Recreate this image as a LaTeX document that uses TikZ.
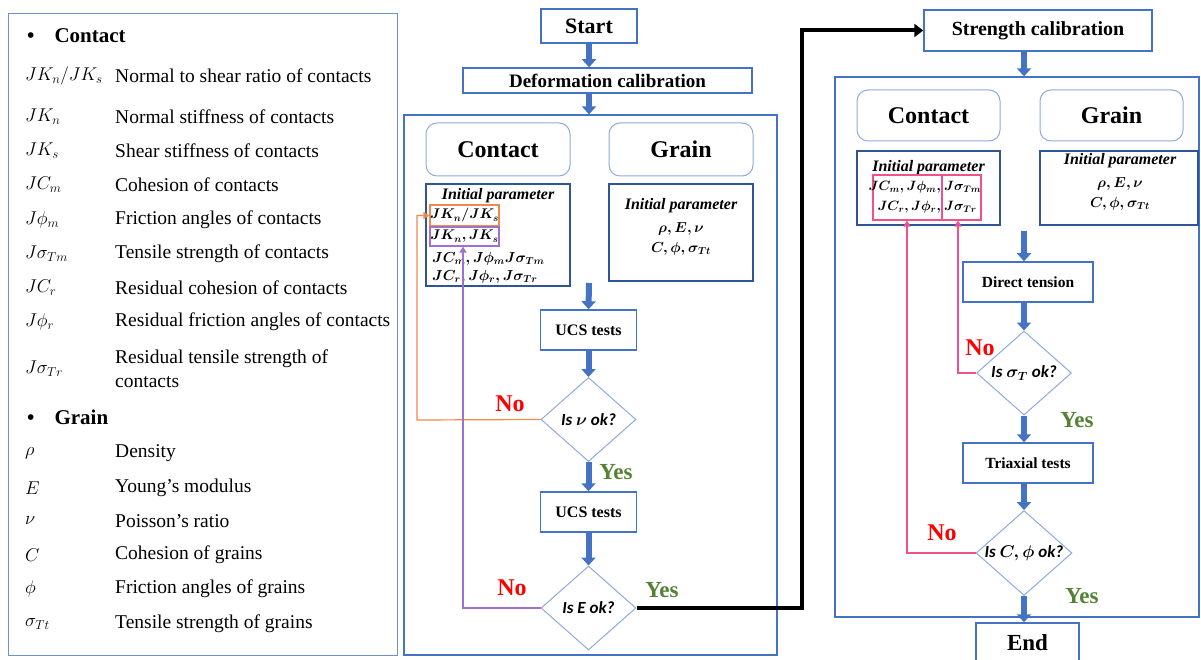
\RequirePackage{fix-cm}
\documentclass[tikz,border=0pt]{standalone}
\usepackage{amsmath}
\usepackage{fontspec}
\setmainfont{Liberation Serif}
\newfontfamily\carl{Carlito}
\usetikzlibrary{arrows.meta,shapes.geometric}
\definecolor{bblue}{HTML}{4472C4}
\definecolor{dblue}{HTML}{2F5597}
\definecolor{lblue}{HTML}{8FAADC}
\definecolor{legcol}{HTML}{7090C8}
\definecolor{myred}{HTML}{FF0000}
\definecolor{mygreen}{HTML}{548235}
\definecolor{myorange}{HTML}{F08A4B}
\definecolor{mypurple}{HTML}{A070D0}
\definecolor{mypink}{HTML}{F0508C}
\newcommand{\fs}[1]{\fontsize{#1}{#1}\selectfont}
\begin{document}
\begin{tikzpicture}[x=1pt,y=-1pt,
  legbox/.style={draw=legcol,line width=1pt,inner sep=0pt},
  sym/.style={anchor=west,inner sep=0pt,font=\fs{18.5}},
  desc/.style={anchor=west,inner sep=0pt,font=\fs{19.5},align=left},
  head/.style={anchor=west,inner sep=0pt,font=\fs{21}\bfseries},
  pbox/.style={draw=bblue,line width=1.5pt,fill=white,inner sep=0pt},
  frame/.style={draw=bblue,line width=1.3pt,inner sep=0pt},
  rbox/.style={draw=lblue,line width=1pt,rounded corners=11pt,inner sep=0pt,font=\fs{24}\bfseries},
  parbox/.style={draw=dblue,line width=1.5pt,inner sep=0pt},
  iptext/.style={inner sep=0pt,font=\fs{16}\bfseries\itshape},
  mtext/.style={inner sep=0pt,font=\fs{14.5}},
  stext/.style={inner sep=0pt,font=\fs{13.5}},
  dia/.style={shape=diamond,draw=lblue,line width=1pt,aspect=1.13,minimum width=95pt,minimum height=84pt,inner sep=0pt,font=\carl\fs{17}\bfseries\itshape},
  barrow/.style={draw=bblue,line width=6pt,-{Triangle[width=14pt,length=8pt]}},
  nolab/.style={inner sep=0pt,font=\fs{24}\bfseries,text=myred},
  yeslab/.style={inner sep=0pt,font=\fs{23}\bfseries,text=mygreen},
  oline/.style={draw=myorange,line width=1.2pt,-{Triangle[width=7pt,length=6pt]}},
  uline/.style={draw=mypurple,line width=1.2pt,-{Triangle[width=7pt,length=6pt]}},
  kline/.style={draw=mypink,line width=1.2pt,-{Triangle[width=7pt,length=6pt]}},
  bline/.style={draw=black,line width=4pt,-{Triangle[width=13pt,length=9pt]}}
]
\useasboundingbox (0,0) rectangle (1201,660);
\fill[white] (0,0) rectangle (1201,660);

% ---------------- legend ----------------
\node[legbox,minimum width=389pt,minimum height=641pt] (leg) at (202.5,334.5) {};
\node[head] (h1) at (27,36) {\textbullet\hspace{20pt}Contact};
\node[sym] (s1) at (25,76) {$JK_n/JK_s$};
\node[desc] (e1) at (115,76) {Normal to shear ratio of contacts};
\node[sym] (s2) at (25,117) {$JK_n$};
\node[desc] (e2) at (115,117) {Normal stiffness of contacts};
\node[sym] (s3) at (25,151) {$JK_s$};
\node[desc] (e3) at (115,151) {Shear stiffness of contacts};
\node[sym] (s4) at (25,185) {$JC_m$};
\node[desc] (e4) at (115,185) {Cohesion of contacts};
\node[sym] (s5) at (25,220) {$J\phi_m$};
\node[desc] (e5) at (115,220) {Friction angles of contacts};
\node[sym] (s6) at (25,254) {$J\sigma_{Tm}$};
\node[desc] (e6) at (115,254) {Tensile strength of contacts};
\node[sym] (s7) at (25,288) {$JC_r$};
\node[desc] (e7) at (115,288) {Residual cohesion of contacts};
\node[sym] (s8) at (25,322) {$J\phi_r$};
\node[desc] (e8) at (115,322) {Residual friction angles of contacts};
\node[sym] (s9) at (25,369) {$J\sigma_{Tr}$};
\node[desc,font={\fontsize{19.5}{24}\selectfont}] (e9) at (115,369) {Residual tensile strength of\\contacts};
\node[head] (h2) at (27,417) {\textbullet\hspace{20pt}Grain};
\node[sym] (g1) at (25,453) {$\rho$};
\node[desc] (f1) at (115,453) {Density};
\node[sym] (g2) at (25,488) {$E$};
\node[desc] (f2) at (115,488) {Young's modulus};
\node[sym] (g3) at (25,521) {$\nu$};
\node[desc] (f3) at (115,521) {Poisson's ratio};
\node[sym] (g4) at (25,555) {$C$};
\node[desc] (f4) at (115,555) {Cohesion of grains};
\node[sym] (g5) at (25,589) {$\phi$};
\node[desc] (f5) at (115,589) {Friction angles of grains};
\node[sym] (g6) at (25,624) {$\sigma_{Tt}$};
\node[desc] (f6) at (115,624) {Tensile strength of grains};

% ---------------- deformation calibration ----------------
\node[pbox,minimum width=96pt,minimum height=34pt,font=\fs{22}\bfseries] (start) at (589,26) {Start};
\node[pbox,minimum width=289pt,minimum height=25pt,font=\fs{19}\bfseries] (def) at (607.5,80.5) {Deformation calibration};
\node[frame,minimum width=373pt,minimum height=540pt] (mid) at (590.5,385) {};
\node[rbox,minimum width=144pt,minimum height=53pt] (ccont) at (498,149.5) {Contact};
\node[rbox,minimum width=144pt,minimum height=53pt] (cgrain) at (681,149.5) {Grain};
\node[parbox,minimum width=144pt,minimum height=102pt] (cpar) at (498,235) {};
\node[parbox,minimum width=144pt,minimum height=97pt] (gpar) at (681,232.5) {};
\node[iptext] (ip1) at (498,196) {Initial parameter};
\node[draw=myorange,line width=1.2pt,minimum width=69pt,minimum height=21pt,inner sep=0pt,font=\fs{14}] (obox) at (464.5,215.5) {$\boldsymbol{JK_n/JK_s}$};
\node[draw=mypurple,line width=1.2pt,minimum width=69pt,minimum height=19pt,inner sep=0pt,font=\fs{14}] (ubox) at (464.5,236.5) {$\boldsymbol{JK_n, JK_s}$};
\node[mtext,anchor=west] (cl3) at (432,259) {$\boldsymbol{JC_m,J\phi_m J\sigma_{Tm}}$};
\node[mtext,anchor=west] (cl4) at (432,277) {$\boldsymbol{JC_r,J\phi_r,J\sigma_{Tr}}$};
\node[iptext] (ip2) at (681,206) {Initial parameter};
\node[mtext] (gl1) at (681,229) {$\boldsymbol{\rho, E, \nu}$};
\node[mtext] (gl2) at (681,249) {$\boldsymbol{C, \phi, \sigma_{Tt}}$};

\coordinate (a1) at (589,283);
\node[pbox,minimum width=96pt,minimum height=40pt,font=\fs{16}\bfseries] (ucs1) at (588.5,330) {UCS tests};
\node[dia] (d1) at (588.5,419.5) {Is $\boldsymbol{\nu}$ ok?};
\node[pbox,minimum width=96pt,minimum height=40pt,font=\fs{16}\bfseries] (ucs2) at (588.5,512) {UCS tests};
\node[dia] (d2) at (588.5,608) {Is E ok?};

\draw[barrow] (start.south) -- (start.south |- def.north);
\draw[barrow] (start.south |- def.south) -- (start.south |- mid.north);
\draw[barrow] (a1) -- (ucs1.north);
\draw[barrow] (ucs1.south) -- (d1.north);
\draw[barrow] (d1.south) -- (ucs2.north);
\draw[barrow] (ucs2.south) -- (d2.north);

\node[nolab] (no1) at (510,404) {No};
\node[yeslab] (yes1) at (616,472) {Yes};
\node[nolab] (no2) at (512,588) {No};
\node[yeslab] (yes2) at (662,590) {Yes};

\coordinate (oc) at (417,420);
\draw[oline] (d1.west) -- (oc) |- (obox.west);
\coordinate (uc) at (463,608);
\draw[uline] (d2.west) -- (uc) -- (uc |- ubox.south);

% ---------------- strength calibration ----------------
\coordinate (rx) at (1024,0);
\node[pbox,minimum width=228pt,minimum height=41pt,font=\fs{20}\bfseries] (str) at (1038,30.5) {Strength calibration};
\coordinate (bk) at (802,608);
\draw[bline] (d2.east) -- (bk) |- (str.west);
\node[frame,minimum width=364pt,minimum height=540pt] (rgt) at (1017,347) {};
\node[rbox,minimum width=143pt,minimum height=51pt] (rcont) at (928.5,115.5) {Contact};
\node[rbox,minimum width=143pt,minimum height=51pt] (rgrain) at (1111.5,115.5) {Grain};
\node[parbox,minimum width=143pt,minimum height=74pt] (rcpar) at (928.5,188) {};
\node[parbox,minimum width=158pt,minimum height=74pt] (rgpar) at (1119,188) {};
\node[iptext] (ip3) at (928.5,168) {Initial parameter};
\node[draw=mypink,line width=1.2pt,minimum width=69pt,minimum height=45pt,inner sep=0pt] (pk1) at (907.5,197.5) {};
\node[draw=mypink,line width=1.2pt,minimum width=39pt,minimum height=45pt,inner sep=0pt] (pk2) at (961.5,197.5) {};
\node[stext,anchor=east] (rl1) at (941,187) {$\boldsymbol{JC_m,J\phi_m,}$};
\node[stext,anchor=east] (rl2) at (941,207) {$\boldsymbol{JC_r,J\phi_r,}$};
\node[stext,anchor=west] (rl3) at (944,187) {$\boldsymbol{J\sigma_{Tm}}$};
\node[stext,anchor=west] (rl4) at (944,207) {$\boldsymbol{J\sigma_{Tr}}$};
\node[iptext] (ip4) at (1120,161) {Initial parameter};
\node[mtext] (rg1) at (1120,184) {$\boldsymbol{\rho, E, \nu}$};
\node[mtext] (rg2) at (1120,204) {$\boldsymbol{C, \phi, \sigma_{Tt}}$};

\coordinate (a2) at (1024,231);
\node[pbox,minimum width=130pt,minimum height=40pt,font=\fs{15.5}\bfseries] (dt) at (1028,282) {Direct tension};
\node[dia] (d3) at (1024,373) {Is $\boldsymbol{\sigma_T}$ ok?};
\node[pbox,minimum width=130pt,minimum height=40pt,font=\fs{15.5}\bfseries] (tri) at (1028,463) {Triaxial tests};
\node[dia] (d4) at (1024,553) {Is $\boldsymbol{C, \phi}$ ok?};
\node[pbox,minimum width=103pt,minimum height=39pt,font=\fs{23}\bfseries] (end) at (1027.5,642.5) {End};

\draw[barrow] (str.south -| rx) -- (rx |- rgt.north);
\draw[barrow] (a2) -- (rx |- dt.north);
\draw[barrow] (rx |- dt.south) -- (d3.north);
\draw[barrow] (d3.south) -- (rx |- tri.north);
\draw[barrow] (rx |- tri.south) -- (d4.north);
\draw[barrow] (d4.south) -- (rx |- end.north);

\node[nolab] (no3) at (980,348) {No};
\node[yeslab] (yes3) at (1077,420) {Yes};
\node[nolab] (no4) at (942,533) {No};
\node[yeslab] (yes4) at (1082,596) {Yes};

\coordinate (k1) at (958,373);
\draw[kline] (d3.west) -- (k1) -- (k1 |- pk2.south);
\coordinate (k2) at (907,553);
\draw[kline] (d4.west) -- (k2) -- (k2 |- pk1.south);
\end{tikzpicture}
\end{document}
